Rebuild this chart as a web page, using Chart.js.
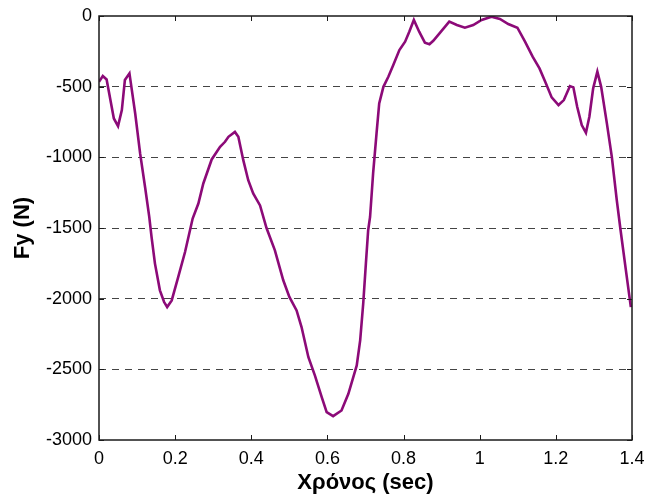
<!DOCTYPE html>
<html>
<head>
<meta charset="utf-8">
<script src="https://cdn.jsdelivr.net/npm/chart.js@4/dist/chart.umd.min.js"></script>
<style>
  html, body { margin: 0; padding: 0; background: #fff; }
  #wrap { width: 648px; height: 497px; }
</style>
</head>
<body>
<div id="wrap"><canvas id="c" width="648" height="497"></canvas></div>
<script>
// Time samples (s) and vertical force Fy (N)
const timeSec = [0, 0.010, 0.020, 0.039, 0.050, 0.060, 0.068, 0.080, 0.095, 0.108, 0.121, 0.132, 0.138, 0.147, 0.160, 0.171, 0.179, 0.191, 0.208, 0.226, 0.239, 0.246, 0.261, 0.274, 0.296, 0.318, 0.331, 0.340, 0.357, 0.366, 0.379, 0.392, 0.405, 0.423, 0.440, 0.462, 0.484, 0.500, 0.519, 0.532, 0.550, 0.567, 0.585, 0.598, 0.615, 0.637, 0.655, 0.677, 0.686, 0.694, 0.701, 0.707, 0.712, 0.720, 0.729, 0.736, 0.747, 0.760, 0.773, 0.789, 0.804, 0.815, 0.827, 0.841, 0.856, 0.868, 0.878, 0.896, 0.920, 0.940, 0.961, 0.983, 1.005, 1.031, 1.053, 1.075, 1.099, 1.119, 1.139, 1.157, 1.174, 1.189, 1.207, 1.221, 1.237, 1.246, 1.256, 1.268, 1.279, 1.288, 1.298, 1.309, 1.319, 1.334, 1.347, 1.360, 1.370, 1.384, 1.397];
const forceN = [-465, -425, -449, -725, -779, -666, -453, -406, -688, -972, -1210, -1421, -1563, -1752, -1941, -2024, -2059, -2012, -1847, -1670, -1516, -1433, -1327, -1185, -1015, -926, -890, -855, -820, -855, -1020, -1162, -1256, -1340, -1500, -1658, -1870, -1988, -2083, -2201, -2414, -2543, -2697, -2803, -2831, -2791, -2673, -2472, -2295, -2035, -1752, -1516, -1422, -1114, -831, -618, -501, -430, -347, -241, -182, -111, -28, -111, -189, -200, -175, -118, -40, -64, -83, -64, -28, -5, -21, -57, -83, -182, -288, -371, -477, -576, -630, -595, -496, -505, -642, -772, -826, -713, -512, -394, -501, -760, -997, -1303, -1516, -1800, -2060];

const xTicks = [0, 0.2, 0.4, 0.6, 0.8, 1, 1.2, 1.4];
const yTicks = [0, -500, -1000, -1500, -2000, -2500, -3000];

const xTitle = 'Χρόνος (sec)';
const yTitle = 'Fy (N)';

const points = timeSec.map((t, i) => ({ x: t, y: forceN[i] }));

// Frame around the plot area with inward tick marks on all four sides
const framePlugin = {
  id: 'frame',
  afterDraw(chart) {
    const { ctx, chartArea: a, scales } = chart;
    ctx.save();
    ctx.strokeStyle = '#1a1a1a';
    ctx.lineWidth = 1.5;
    ctx.strokeRect(a.left, a.top, a.right - a.left, a.bottom - a.top);
    ctx.lineWidth = 1;
    const len = 5;
    ctx.beginPath();
    xTicks.forEach(v => {
      const px = Math.round(scales.x.getPixelForValue(v)) + 0.5;
      ctx.moveTo(px, a.bottom); ctx.lineTo(px, a.bottom - len);
      ctx.moveTo(px, a.top); ctx.lineTo(px, a.top + len);
    });
    yTicks.forEach(v => {
      const py = Math.round(scales.y.getPixelForValue(v)) + 0.5;
      ctx.moveTo(a.left, py); ctx.lineTo(a.left + len, py);
      ctx.moveTo(a.right, py); ctx.lineTo(a.right - len, py);
    });
    ctx.stroke();
    ctx.restore();
  }
};

const FONT = "'Liberation Sans', Arial, sans-serif";

new Chart(document.getElementById('c'), {
  type: 'line',
  data: {
    datasets: [{
      data: points,
      borderColor: '#8c0a78',
      borderWidth: 2.6,
      pointRadius: 0,
      tension: 0,
      fill: false
    }]
  },
  options: {
    responsive: false,
    animation: false,
    layout: { padding: { left: 0, right: 16, top: 16, bottom: 0 } },
    plugins: { legend: { display: false }, tooltip: { enabled: false } },
    scales: {
      x: {
        type: 'linear',
        min: 0, max: 1.4,
        afterBuildTicks(s) { s.ticks = xTicks.map(v => ({ value: v })); },
        afterFit(s) { s.height = 57; s.paddingLeft = 0; s.paddingRight = 0; },
        border: { display: false },
        grid: { display: false, drawTicks: false },
        ticks: {
          color: '#000',
          font: { family: FONT, size: 18 },
          padding: 8,
          maxRotation: 0,
          callback: v => String(v)
        },
        title: {
          display: true,
          text: xTitle,
          color: '#000',
          font: { family: FONT, size: 22, weight: 'bold' },
          padding: { top: 0, bottom: 1 }
        }
      },
      y: {
        type: 'linear',
        min: -3000, max: 0,
        afterBuildTicks(s) { s.ticks = yTicks.map(v => ({ value: v })); },
        afterFit(s) { s.width = 99; s.paddingTop = 0; s.paddingBottom = 0; },
        border: { display: false, dash: [7, 6] },
        grid: {
          drawTicks: false,
          lineWidth: 1,
          color: ctx => (ctx.tick && (ctx.tick.value === 0 || ctx.tick.value === -3000)) ? 'rgba(0,0,0,0)' : '#444'
        },
        ticks: {
          color: '#000',
          font: { family: FONT, size: 18 },
          padding: 7,
          callback: v => String(v)
        },
        title: {
          display: true,
          text: yTitle,
          color: '#000',
          font: { family: FONT, size: 22, weight: 'bold' },
          padding: { top: 10, bottom: 0 }
        }
      }
    }
  },
  plugins: [framePlugin]
});
</script>
</body>
</html>
